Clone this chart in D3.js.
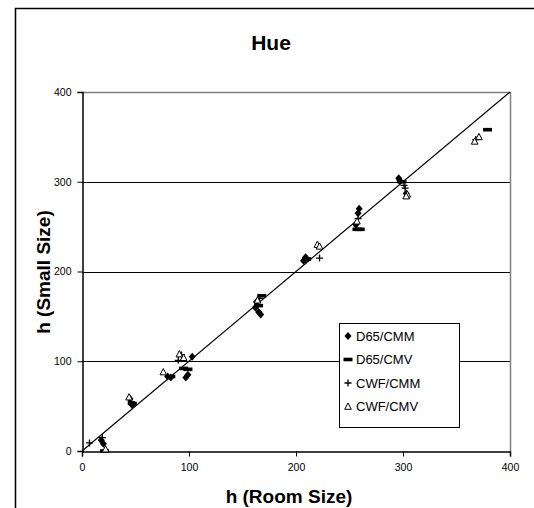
<!DOCTYPE html>
<meta charset="utf-8">
<html>
<head>
<style>
  body { margin: 0; background: #fff; }
  text { font-family: Arial, "Liberation Sans", sans-serif; }
</style>
</head>
<body>
<div id="chart"></div>
<script src="https://d3js.org/d3.v7.min.js"></script>
<script>

  // Hue values: [room size, small size]
  var d65cmm = [[18,12],[20,8],[45,58],[47,51],[80,83],[83,82],[97,82],[99,85],[103,105],
                [162,160],[165,155],[167,152],[163,166],[207,212],[209,216],
                [258,265],[259,270],[256,252],[296,304],[297,301],[303,287]];
  var d65cmv = [[21,0],[47,53],[83,83],[99,91],[95,92],[168,173],[165,162],[210,214],
                [260,247],[257,247],[299,300],[379,358]];
  var cwfcmm = [[7,9],[19,15],[46,55],[93,107],[90,101],[166,170],[222,215],[209,212],
                [258,259],[301,296],[302,293],[368,347]];
  var cwfcmv = [[22,2],[44,60],[76,88],[91,108],[95,104],[164,168],[220,230],[222,228],
                [257,256],[304,286],[303,284],[367,345],[371,350]];

  var seriesNames = ["D65/CMM", "D65/CMV", "CWF/CMM", "CWF/CMV"];
  var seriesData = [d65cmm, d65cmv, cwfcmm, cwfcmv];
  var seriesShapes = ["diamond", "dash", "cross", "triangle"];
  var xTicks = [0, 100, 200, 300, 400];
  var yTicks = [0, 100, 200, 300, 400];

  var W = 534, H = 508;
  var svg = d3.select("#chart").append("svg")
      .attr("width", W)
      .attr("height", H);

  // outer frame (runs off the right and bottom)
  svg.append("rect")
    .attr("x", 15.5).attr("y", 8.5)
    .attr("width", 600).attr("height", 600)
    .attr("fill", "none")
    .attr("stroke", "#000")
    .attr("stroke-width", 1.5);

  var x = d3.scaleLinear().domain([0, 400]).range([82, 510]);
  var y = d3.scaleLinear().domain([0, 400]).range([451, 92]);

  // gridlines
  svg.append("g").selectAll("line")
    .data(yTicks.filter(function(d) { return d > 0 && d < 400; }))
    .enter().append("line")
      .attr("x1", x(0)).attr("x2", x(400))
      .attr("y1", function(d) { return Math.round(y(d)) + 0.5; })
      .attr("y2", function(d) { return Math.round(y(d)) + 0.5; })
      .attr("stroke", "#000");

  // plot area top / right border
  svg.append("path")
    .attr("d", "M" + x(0) + "," + (y(400) + 0.5) + "H" + (x(400) + 0.5) + "V" + y(0))
    .attr("fill", "none")
    .attr("stroke", "#808080")
    .attr("stroke-width", 1.5);

  // axes
  var xAxis = svg.append("g")
    .attr("transform", "translate(0," + (Math.round(y(0)) + 0.5) + ")")
    .call(d3.axisBottom(x).tickValues(xTicks).tickSize(5).tickPadding(7));
  var yAxis = svg.append("g")
    .attr("transform", "translate(" + (x(0) + 0.5) + ",0)")
    .call(d3.axisLeft(y).tickValues(yTicks).tickSize(5).tickPadding(6));
  [xAxis, yAxis].forEach(function(a) {
    a.select(".domain").attr("stroke", "#000").attr("stroke-width", 1.5);
    a.selectAll(".tick line").attr("stroke", "#000");
    a.selectAll("text")
      .style("font-family", "Arial, 'Liberation Sans', sans-serif")
      .style("font-size", "10.5px")
      .attr("fill", "#000");
  });

  // y = x reference line
  svg.append("line")
    .attr("x1", x(0)).attr("y1", y(0))
    .attr("x2", x(400)).attr("y2", y(400))
    .attr("stroke", "#000")
    .attr("stroke-width", 1.2);

  // marker drawing
  function drawMarker(g, shape) {
    if (shape === "diamond") {
      g.append("path").attr("d", "M0,-4L3.5,0L0,4L-3.5,0Z").attr("fill", "#000");
    } else if (shape === "dash") {
      g.append("rect").attr("x", -4.5).attr("y", -1.8).attr("width", 9).attr("height", 3.6).attr("fill", "#000");
    } else if (shape === "cross") {
      g.append("path").attr("d", "M-3.5,0H3.5M0,-3.5V3.5").attr("stroke", "#000").attr("stroke-width", 1.3);
    } else {
      g.append("path").attr("d", "M0,-3.5L3.3,2.8H-3.3Z").attr("fill", "#fff").attr("stroke", "#000").attr("stroke-width", 1);
    }
  }

  seriesData.forEach(function(data, i) {
    svg.append("g").selectAll("g")
      .data(data)
      .enter().append("g")
        .attr("transform", function(d) { return "translate(" + x(d[0]) + "," + y(d[1]) + ")"; })
        .each(function() { drawMarker(d3.select(this), seriesShapes[i]); });
  });

  // legend
  var legend = svg.append("g");
  legend.append("rect")
    .attr("x", 339.5).attr("y", 323.5)
    .attr("width", 120).attr("height", 104)
    .attr("fill", "#fff")
    .attr("stroke", "#000");
  seriesNames.forEach(function(name, i) {
    var ly = 336 + i * 23.5;
    var g = legend.append("g").attr("transform", "translate(348," + ly + ")");
    drawMarker(g, seriesShapes[i]);
    legend.append("text")
      .attr("x", 356).attr("y", ly + 4.5)
      .style("font-size", "13px")
      .text(name);
  });

  // titles
  svg.append("text")
    .attr("x", 271).attr("y", 50)
    .attr("text-anchor", "middle")
    .style("font-size", "21px").style("font-weight", "bold")
    .text("Hue");
  svg.append("text")
    .attr("x", 289).attr("y", 503)
    .attr("text-anchor", "middle")
    .style("font-size", "19px").style("font-weight", "bold")
    .text("h (Room Size)");
  svg.append("text")
    .attr("transform", "translate(50,272) rotate(-90)")
    .attr("text-anchor", "middle")
    .style("font-size", "19px").style("font-weight", "bold")
    .text("h (Small Size)");

</script>
</body>
</html>
